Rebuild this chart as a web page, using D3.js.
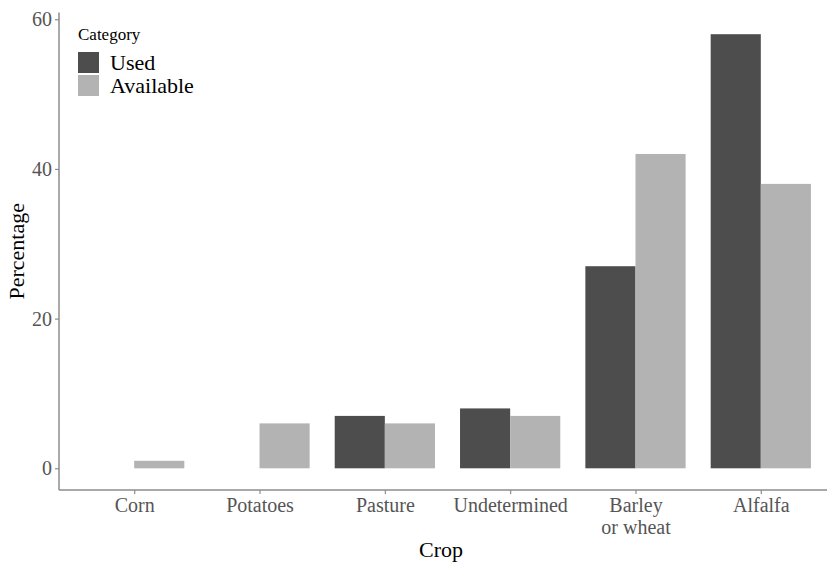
<!DOCTYPE html>
<html>
<head>
<meta charset="utf-8">
<script src="https://cdn.jsdelivr.net/npm/d3@7"></script>
<style>
  body { margin: 0; background: #fff; }
</style>
</head>
<body>
<div id="chart"></div>
<script>
let w = 827;
let h = 562;

// data
let crops = ["Corn", "Potatoes", "Pasture", "Undetermined", "Barley\nor wheat", "Alfalfa"];
let categories = ["Used", "Available"];
let used = [0, 0, 7, 8, 27, 58];
let available = [1, 6, 6, 7, 42, 38];
let yTicks = [0, 20, 40, 60];

let colors = {"Used": "#4d4d4d", "Available": "#b3b3b3"};
let serif = "'Liberation Serif', 'Times New Roman', 'DejaVu Serif', serif";

let plotLeft = 59, plotRight = 836, plotTop = 12.5, plotBottom = 490;

let viz = d3.select("#chart")
  .append("svg")
  .attr("width", w)
  .attr("height", h);

// ggplot-ish discrete scale: 0.6 units of expansion on each side
let step = (plotRight - plotLeft) / (crops.length - 1 + 1.2);
let xScale = d3.scalePoint().domain(crops).range([plotLeft + 0.6 * step, plotRight - 0.6 * step]);
let xSub = d3.scaleBand().domain(categories).range([-0.4 * step, 0.4 * step]);

let yScale = d3.scaleLinear().domain([-2.9, 60.9]).range([plotBottom, plotTop]);

let rows = [];
crops.forEach((c, i) => {
  rows.push({crop: c, cat: "Used", value: used[i]});
  rows.push({crop: c, cat: "Available", value: available[i]});
});

viz.selectAll(".bar").data(rows.filter(d => d.value > 0)).enter()
  .append("rect")
  .attr("class", "bar")
  .attr("x", d => xScale(d.crop) + xSub(d.cat))
  .attr("width", xSub.bandwidth())
  .attr("y", d => yScale(d.value))
  .attr("height", d => yScale(0) - yScale(d.value))
  .attr("fill", d => colors[d.cat]);

// axes
let axisColor = "#8c8c8c";
let labelColor = "#555";

let yAxis = viz.append("g")
  .attr("transform", "translate(" + plotLeft + ",0)")
  .call(d3.axisLeft(yScale).tickValues(yTicks).tickSize(4).tickPadding(3));
yAxis.select(".domain").attr("d", "M0," + plotTop + "V" + plotBottom).attr("stroke", axisColor).attr("stroke-width", 1.5);
yAxis.selectAll(".tick line").attr("stroke", axisColor).attr("stroke-width", 1.2);
yAxis.selectAll(".tick text")
  .attr("fill", labelColor)
  .style("font-family", serif)
  .style("font-size", "20px");

let xAxis = viz.append("g")
  .attr("transform", "translate(0," + plotBottom + ")")
  .call(d3.axisBottom(xScale).tickSize(4).tickPadding(4).tickFormat(""));
xAxis.select(".domain").attr("d", "M" + plotLeft + ",0H" + w).attr("stroke", axisColor).attr("stroke-width", 1.5);
xAxis.selectAll(".tick line").attr("stroke", axisColor).attr("stroke-width", 1.2);

xAxis.selectAll(".tick").each(function(d) {
  let t = d3.select(this).append("text")
    .attr("fill", labelColor)
    .attr("text-anchor", "middle")
    .style("font-family", serif)
    .style("font-size", "20px");
  d.split("\n").forEach((line, i) => {
    t.append("tspan").attr("x", 0).attr("y", 22 + i * 22).text(line);
  });
});

// axis titles
viz.append("text")
  .attr("x", (plotLeft + w) / 2 - 2)
  .attr("y", 557)
  .attr("text-anchor", "middle")
  .style("font-family", serif)
  .style("font-size", "22px")
  .attr("fill", "#000")
  .text("Crop");

viz.append("text")
  .attr("transform", "translate(24," + (plotTop + plotBottom) / 2 + ") rotate(-90)")
  .attr("text-anchor", "middle")
  .style("font-family", serif)
  .style("font-size", "22px")
  .attr("fill", "#000")
  .text("Percentage");

// legend
let legend = viz.append("g").attr("transform", "translate(78,0)");
legend.append("text")
  .attr("x", 0).attr("y", 40)
  .style("font-family", serif)
  .style("font-size", "17px")
  .text("Category");

categories.forEach((c, i) => {
  legend.append("rect")
    .attr("x", 0).attr("y", 52 + i * 23)
    .attr("width", 21).attr("height", 21)
    .attr("fill", colors[c]);
  legend.append("text")
    .attr("x", 32).attr("y", 70 + i * 23)
    .style("font-family", serif)
    .style("font-size", "22px")
    .text(c);
});
</script>
</body>
</html>
